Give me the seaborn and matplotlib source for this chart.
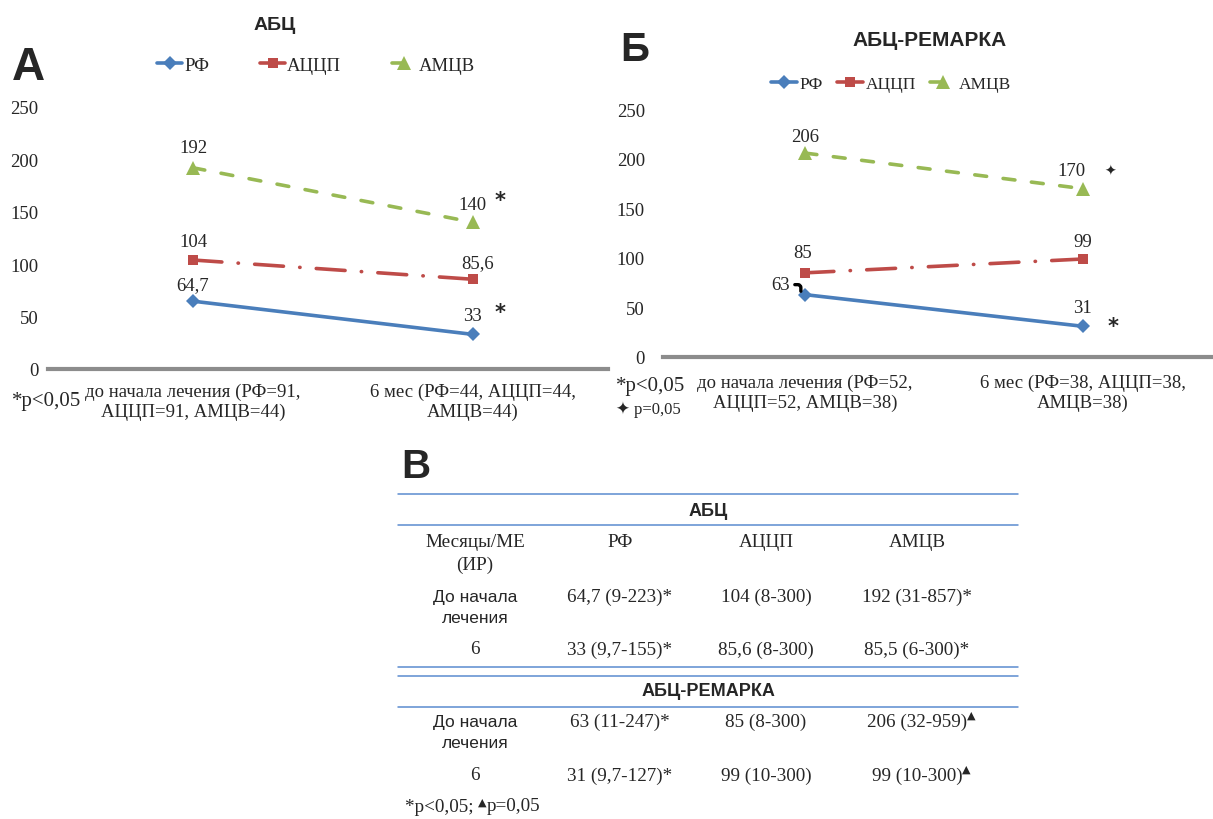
import matplotlib
matplotlib.use("Agg")
import matplotlib.pyplot as plt
from matplotlib.lines import Line2D
import pandas as pd
import seaborn as sns

# ---- data -------------------------------------------------------------
SERIES = ["РФ", "АЦЦП", "АМЦВ"]

CATS_A = ["до начала лечения (РФ=91,\nАЦЦП=91, АМЦВ=44)",
          "6 мес (РФ=44, АЦЦП=44,\nАМЦВ=44)"]
A_RF = [64.7, 33]
A_ACCP = [104, 85.6]
A_AMCV = [192, 140]

CATS_B = ["до начала лечения (РФ=52,\nАЦЦП=52, АМЦВ=38)",
          "6 мес (РФ=38, АЦЦП=38,\nАМЦВ=38)"]
B_RF = [63, 31]
B_ACCP = [85, 99]
B_AMCV = [206, 170]

Y_TICKS = [0, 50, 100, 150, 200, 250]

TABLE_COLS = ["Месяцы/МЕ\n(ИР)", "РФ", "АЦЦП", "АМЦВ"]
TABLE_ABC = [
    ["До начала\nлечения", "64,7 (9-223)*", "104 (8-300)", "192 (31-857)*"],
    ["6", "33 (9,7-155)*", "85,6 (8-300)", "85,5 (6-300)*"],
]
TABLE_REM = [
    ["До начала\nлечения", "63 (11-247)*", "85 (8-300)", "206 (32-959)"],
    ["6", "31 (9,7-127)*", "99 (10-300)", "99 (10-300)"],
]

# ---- style ------------------------------------------------------------
COLORS = {"РФ": "#4a7ebb", "АЦЦП": "#be4b48", "АМЦВ": "#98b954"}
DASHES = {"РФ": "", "АЦЦП": (8, 4.5, 0.1, 4.5), "АМЦВ": (3.3, 4.6)}
MARKERS = {"РФ": "D", "АЦЦП": "s", "АМЦВ": "^"}
FS = 13.5      # chart text
FS_T = 13.8    # table text

sns.set_style("white")
plt.rcParams["font.family"] = ["Liberation Serif", "DejaVu Sans"]
plt.rcParams["axes.unicode_minus"] = False

W, H = 1213, 820
fig = plt.figure(figsize=(W / 100, H / 100), dpi=100)


def fx(x):
    return x / W


def fy(y):
    return 1 - y / H


def fmt(v):
    return f"{v:g}".replace(".", ",")


def long_frame(rf, accp, amcv):
    rows = []
    for name, vals in zip(SERIES, [rf, accp, amcv]):
        for i, v in enumerate(vals):
            rows.append({"series": name, "pos": i, "value": v})
    return pd.DataFrame(rows)


def draw_panel(rect, xlim, df, cats, ypad, xpad):
    ax = fig.add_axes(rect)
    sns.lineplot(data=df, x="pos", y="value", hue="series", style="series",
                 hue_order=SERIES, style_order=SERIES, palette=COLORS,
                 dashes=DASHES, markers=MARKERS, markersize=9,
                 markeredgewidth=0, linewidth=2.6, ax=ax,
                 dash_capstyle="round", solid_capstyle="round")
    for ln in ax.lines:
        if ln.get_marker() == "s":
            ln.set_markersize(7.5)
        elif ln.get_marker() == "D":
            ln.set_markersize(7)
        elif ln.get_marker() == "^":
            ln.set_markersize(10)
    ax.set_xlim(*xlim)
    ax.set_ylim(0, 250)
    ax.set_yticks(Y_TICKS)
    ax.set_xticks([0, 1])
    ax.set_xticklabels(cats, fontsize=FS, linespacing=1.2)
    ax.set_xlabel("")
    ax.set_ylabel("")
    for s in ["left", "top", "right"]:
        ax.spines[s].set_visible(False)
    ax.spines["bottom"].set_color("#8c8c8c")
    ax.spines["bottom"].set_linewidth(3)
    ax.tick_params(axis="y", length=0, pad=ypad, labelsize=FS)
    ax.tick_params(axis="x", length=0, pad=xpad)
    handles, labels = ax.get_legend_handles_labels()
    leg = ax.get_legend()
    if leg is not None:
        leg.remove()
    return ax, handles, labels


def label(ax, x, y, text, dx, dy, **kw):
    ax.annotate(text, xy=(x, y), xytext=(dx * 0.72, dy * 0.72),
                textcoords="offset points", ha="center", va="center",
                fontsize=FS, annotation_clip=False, **kw)


# ---- panel A ----------------------------------------------------------
axA, hA, lA = draw_panel([fx(48), fy(370), fx(560), 262 / H],
                         (-0.518, 1.482), long_frame(A_RF, A_ACCP, A_AMCV),
                         CATS_A, ypad=7, xpad=10)
label(axA, 0, A_RF[0], fmt(A_RF[0]), 0, 17)
label(axA, 1, A_RF[1], fmt(A_RF[1]), -1, 19)
label(axA, 0, A_ACCP[0], fmt(A_ACCP[0]), 0, 19)
label(axA, 1, A_ACCP[1], fmt(A_ACCP[1]), 5, 17)
label(axA, 0, A_AMCV[0], fmt(A_AMCV[0]), 0, 20)
label(axA, 1, A_AMCV[1], fmt(A_AMCV[1]), -1, 18)
for v in (A_AMCV[1], A_RF[1]):
    axA.annotate("*", xy=(1, v), xytext=(27 * 0.72, 22 * 0.72),
                 textcoords="offset points", ha="center", va="center",
                 fontsize=15, fontweight="bold", family="DejaVu Sans",
                 annotation_clip=False)

fig.text(fx(275), fy(25), "АБЦ", ha="center", va="center",
         family="Liberation Sans", fontweight="bold", fontsize=14)
fig.text(fx(12), fy(68), "А", ha="left", va="center",
         family="Liberation Sans", fontweight="bold", fontsize=33)
fig.legend(hA, lA, loc="center", bbox_to_anchor=(fx(316), fy(66)), ncol=3,
           frameon=False, fontsize=FS, handlelength=1.35, handletextpad=0.1,
           columnspacing=2.7)
fig.text(fx(12), fy(402), "*p<0,05", ha="left", va="center", fontsize=15)

# ---- panel Б ----------------------------------------------------------
axB, hB, lB = draw_panel([fx(663), fy(358), fx(550), 247.5 / H],
                         (-0.511, 1.468), long_frame(B_RF, B_ACCP, B_AMCV),
                         CATS_B, ypad=13, xpad=12)
label(axB, 0, B_AMCV[0], fmt(B_AMCV[0]), 0, 17)
label(axB, 1, B_AMCV[1], fmt(B_AMCV[1]), -11, 18)
label(axB, 0, B_ACCP[0], fmt(B_ACCP[0]), -2, 20)
label(axB, 1, B_ACCP[1], fmt(B_ACCP[1]), 0, 17)
label(axB, 1, B_RF[1], fmt(B_RF[1]), 0, 19)
# label for the first РФ point with a short hooked leader
axB.annotate(fmt(B_RF[0]), xy=(-0.015, B_RF[0] + 2),
             xytext=(-20 * 0.72, 8 * 0.72),
             textcoords="offset points", ha="center", va="center",
             fontsize=FS, annotation_clip=False,
             arrowprops=dict(arrowstyle="-", color="black", lw=2.4,
                             shrinkA=1, shrinkB=1,
                             connectionstyle="angle,angleA=0,angleB=90,rad=3"))
axB.annotate("✦", xy=(1, B_AMCV[1]), xytext=(27 * 0.72, 18 * 0.72),
             textcoords="offset points", ha="center", va="center",
             fontsize=10, family="DejaVu Sans", annotation_clip=False)
axB.annotate("*", xy=(1, B_RF[1]), xytext=(30 * 0.72, 0),
             textcoords="offset points", ha="center", va="center",
             fontsize=15, fontweight="bold", family="DejaVu Sans",
             annotation_clip=False)

fig.text(fx(930), fy(40), "АБЦ-РЕМАРКА", ha="center", va="center",
         family="Liberation Sans", fontweight="bold", fontsize=15)
fig.text(fx(620), fy(50), "Б", ha="left", va="center",
         family="Liberation Sans", fontweight="bold", fontsize=29)
fig.legend(hB, lB, loc="center", bbox_to_anchor=(fx(891), fy(85)), ncol=3,
           frameon=False, fontsize=12.5, handlelength=1.5, handletextpad=0.15,
           columnspacing=0.8)
fig.text(fx(616), fy(387), "*p<0,05", ha="left", va="center", fontsize=15)
fig.text(fx(616), fy(410), "✦ p=0,05", ha="left", va="center", fontsize=12,
         family=["Liberation Serif", "DejaVu Sans"])

# ---- table В ----------------------------------------------------------
axT = fig.add_axes([0, 0, 1, 1])
axT.set_axis_off()
axT.set_xlim(0, W)
axT.set_ylim(H, 0)

fig.text(fx(401), fy(467), "В", ha="left", va="center",
         family="Liberation Sans", fontweight="bold", fontsize=29)

RULE = "#5b8ccf"
for y in (495, 526, 668, 677, 708):
    axT.add_line(Line2D([398, 1018], [y, y], color=RULE, lw=1.1))

COL_X = [475, 620, 766, 917]
axT.text(708, 511, "АБЦ", ha="center", va="center", family="Liberation Sans",
         fontweight="bold", fontsize=13)
axT.text(708, 692, "АБЦ-РЕМАРКА", ha="center", va="center",
         family="Liberation Sans", fontweight="bold", fontsize=13)

for x, t in zip(COL_X, TABLE_COLS):
    axT.text(x, 554 if "\n" in t else 543, t, ha="center", va="center",
             fontsize=FS_T, linespacing=1.4)


def table_rows(rows, ys, mark_last):
    for r, y in zip(rows, ys):
        for j, (x, t) in enumerate(zip(COL_X, r)):
            if j == 0 and "\n" in t:
                axT.text(x, y + 11, t, ha="center", va="center", fontsize=12.5,
                         family="Liberation Sans", linespacing=1.55)
            else:
                txt = axT.text(x, y, t, ha="center", va="center",
                               fontsize=FS_T)
                if mark_last and j == 3:
                    axT.annotate("▲", xy=(1.0, 0.85), xycoords=txt,
                                 ha="left", va="center", fontsize=8,
                                 family="DejaVu Sans")


table_rows(TABLE_ABC, [597, 650], False)
table_rows(TABLE_REM, [722, 776], True)

foot = axT.text(405, 808, "*p<0,05; ", ha="left", va="center", fontsize=FS_T)
tri = axT.annotate("▲", xy=(1.0, 0.8), xycoords=foot, ha="left", va="center",
                   fontsize=8, family="DejaVu Sans")
axT.annotate("p=0,05", xy=(1.0, 0.5), xycoords=tri, xytext=(0, -2.5),
             textcoords="offset points", ha="left", va="center",
             fontsize=FS_T)

fig.savefig("out.png", dpi=100)
